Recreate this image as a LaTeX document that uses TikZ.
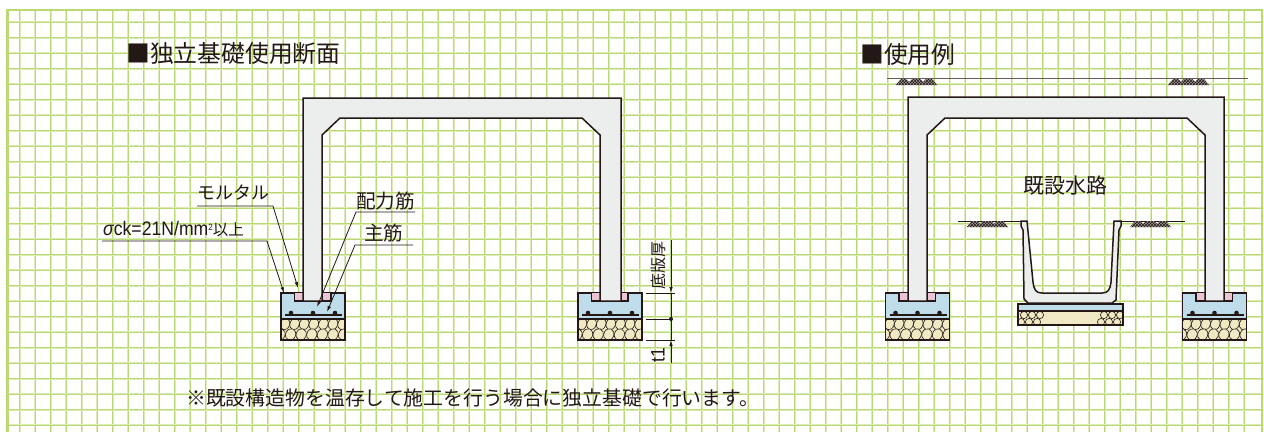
\documentclass[tikz,border=0pt]{standalone}
\usepackage{fontspec}
\setmainfont{Noto Sans CJK JP}
\newfontfamily\narrowfont[FakeStretch=0.9]{Liberation Sans}
\usetikzlibrary{arrows.meta,patterns}
\definecolor{gridgreen}{HTML}{BAD873}
\definecolor{gridpale}{HTML}{DDEBB5}
\definecolor{inkdark}{HTML}{231815}
\definecolor{concrete}{HTML}{ECEEED}
\definecolor{footblue}{HTML}{BFDCEA}
\definecolor{mortarpink}{HTML}{EBC4D6}
\definecolor{gravelcream}{HTML}{F0E9C4}
\tikzset{
  label/.style={font=\fontsize{19.6}{20}\selectfont,inner sep=0pt,text=inkdark,anchor=west},
  title/.style={font=\fontsize{23.8}{24}\selectfont,inner sep=0pt,anchor=west,text=inkdark},
  outline/.style={draw=inkdark,line width=1.5pt,line join=miter},
  leader/.style={draw=inkdark,line width=0.8pt,-{Latex[length=6pt,width=3.5pt]}},
  rule/.style={draw=inkdark,line width=0.8pt},
}
% footing, #1 = left edge of the block
\newcommand{\footing}[1]{
  \begin{scope}[shift={(#1,293)}]
    \fill[gravelcream] (0,26) rectangle (64,47);
    \begin{scope}
      \clip (0,26) rectangle (64,47);
      \foreach \i in {0,...,6} {
        \draw[inkdark,line width=0.6pt,fill=gravelcream,rotate around={-20:(4+\i*9.6,31)}] (4+\i*9.6,31) ellipse (4.6 and 6);
        \draw[inkdark,line width=0.6pt,fill=gravelcream,rotate around={-20:(-1+\i*10.6,41.5)}] (-1+\i*10.6,41.5) ellipse (5 and 6);
      }
    \end{scope}
    \draw[outline,fill=footblue] (0,0) rectangle (64,26);
    \draw[outline] (0,26) rectangle (64,47);
    \draw[outline,fill=mortarpink] (13.5,0) -- (13.5,8) -- (50,8) -- (50,0);
    \draw[rule,line width=1.2pt] (4,22) -- (61,22);
    \foreach \d in {10,32,54} \fill[inkdark] (\d,20) circle (2.3);
  \end{scope}
}
% culvert frame: outer left, inner left, inner right, outer right, top
\newcommand{\frameshape}[5]{
  \draw[outline,fill=concrete] (#1,301) -- (#1,#5) -- (#4,#5) -- (#4,301) -- (#3,301) -- (#3,135)
    -- (#3-18,118) -- (#2+18,118) -- (#2,135) -- (#2,301) -- cycle;
}
% ground mark, #1 = left, #2 = top
\newcommand{\groundmark}[2]{
  \fill[inkdark!45] (#1,#2+6) -- (#1+5,#2) -- (#1+10,#2) -- (#1+13,#2+3) -- (#1+16,#2) -- (#1+24,#2) -- (#1+27,#2+3) -- (#1+30,#2) -- (#1+36,#2) -- (#1+41,#2+6) -- cycle;
  \fill[pattern=crosshatch,pattern color=inkdark] (#1,#2+6) -- (#1+5,#2) -- (#1+10,#2) -- (#1+13,#2+3) -- (#1+16,#2) -- (#1+24,#2) -- (#1+27,#2+3) -- (#1+30,#2) -- (#1+36,#2) -- (#1+41,#2+6) -- cycle;
}
\begin{document}
\begin{tikzpicture}[x=1pt,y=-1pt]
  \useasboundingbox (0,0) rectangle (1264,432);
  \fill[white] (0,0) rectangle (1264,432);
  % grid
  \foreach \x in {0,...,79} {
    \draw[gridpale,line width=2pt] (19.6+\x*15.5,10) -- (19.6+\x*15.5,432);
    \draw[gridgreen,line width=1pt] (19.6+\x*15.5,10) -- (19.6+\x*15.5,432);
  }
  \foreach \y in {0,...,26} {
    \draw[gridpale,line width=2pt] (7,22+\y*15.5) -- (1262,22+\y*15.5);
    \draw[gridgreen,line width=1pt] (7,22+\y*15.5) -- (1262,22+\y*15.5);
  }
  \draw[gridgreen,line width=2.4pt] (7.5,432) -- (7.5,10) -- (1262,10) -- (1262,432);
  % titles
  \node[title] (title1) at (126,54) {■独立基礎使用断面};
  \node[title] (title2) at (860,54) {■使用例};
  % left section
  \footing{281}
  \footing{578}
  \frameshape{303}{322}{600}{621}{98}
  % leaders
  \node[label,font=\fontsize{18}{18}\selectfont] (mortar) at (197,193) {モルタル};
  \coordinate (mortarbend) at (273,206);
  \coordinate (mortarend) at (298,288);
  \draw[leader] (197,206) -- (mortarbend) -- (mortarend);
  \node[label] (sigma) at (103,229) {{\narrowfont\itshape σ}{\narrowfont ck=21N/mm\raisebox{5pt}{\fontsize{9}{9}\selectfont 2}}{\fontsize{15.5}{16}\selectfont 以上}};
  \coordinate (sigmabend) at (267,241);
  \coordinate (sigmaend) at (284,293);
  \draw[leader] (102,241) -- (sigmabend) -- (sigmaend);
  \node[label] (dist) at (356,201) {配力筋};
  \coordinate (distbend) at (356,212);
  \coordinate (distend) at (317,307);
  \draw[leader] (415,212) -- (distbend) -- (distend);
  \node[label] (main) at (364,233) {主筋};
  \coordinate (mainbend) at (355,245);
  \coordinate (mainend) at (327,312);
  \draw[leader] (413,245) -- (mainbend) -- (mainend);
  % dimensions
  \coordinate (dimtop) at (671,293);
  \coordinate (dimmid) at (671,319);
  \coordinate (dimlow) at (671,340);
  \draw[rule] (646,293) -- (675,293);
  \draw[rule] (646,319) -- (dimmid);
  \draw[rule] (646,340) -- (675,340);
  \draw[leader] (671,240) -- (dimtop);
  \draw[leader] (671,363) -- (dimlow);
  \draw[rule] (dimtop) -- (dimlow);
  \fill[inkdark] (dimmid) circle (2);
  \node[label,rotate=90,font=\fontsize{16}{16}\selectfont] (slab) at (658,289.5) {底版厚};
  \node[label,rotate=90,anchor=center] (tone) at (658,355) {\narrowfont t1};
  \node[label,font=\fontsize{19.85}{20}\selectfont] (note) at (186,398) {※既設構造物を温存して施工を行う場合に独立基礎で行います。};
  % right section
  \draw[rule,draw=inkdark!70] (887,78) -- (1248,78);
  \groundmark{896}{79}
  \groundmark{1168}{79}
  \footing{885.5}
  \footing{1182.5}
  \frameshape{908}{927}{1205}{1224}{97}
  \node[label,font=\fontsize{21}{21}\selectfont,anchor=center] (canal) at (1065,186) {既設水路};
  \draw[rule] (958,221) -- (1021,221);
  \draw[rule] (1121,221) -- (1185,221);
  \groundmark{967}{221}
  \groundmark{1130}{221}
  % flume
  \draw[outline,fill=concrete] (1021,221) -- (1027,221) -- (1033,282) .. controls (1034,290) and (1036,293) .. (1042,293)
    -- (1102,293) .. controls (1108,293) and (1110,290) .. (1111,282) -- (1114,221) -- (1121,221) -- (1121,226) -- (1119,230)
    -- (1116,300) -- (1112,303) -- (1028,303) -- (1024,299) -- (1023,230) -- (1021,226) -- cycle;
  \draw[outline,fill=footblue] (1018,304) rectangle (1123,311);
  \draw[outline,fill=gravelcream] (1018,311) rectangle (1123,325);
  \foreach \x in {1024,1032,1040,1104,1112,1120} {
    \draw[inkdark,line width=0.6pt] (\x,315) circle (3.6);
    \draw[inkdark,line width=0.6pt] (\x-3,322) circle (3.6);
  }
  \draw[outline] (1018,311) rectangle (1123,325);
\end{tikzpicture}
\end{document}
